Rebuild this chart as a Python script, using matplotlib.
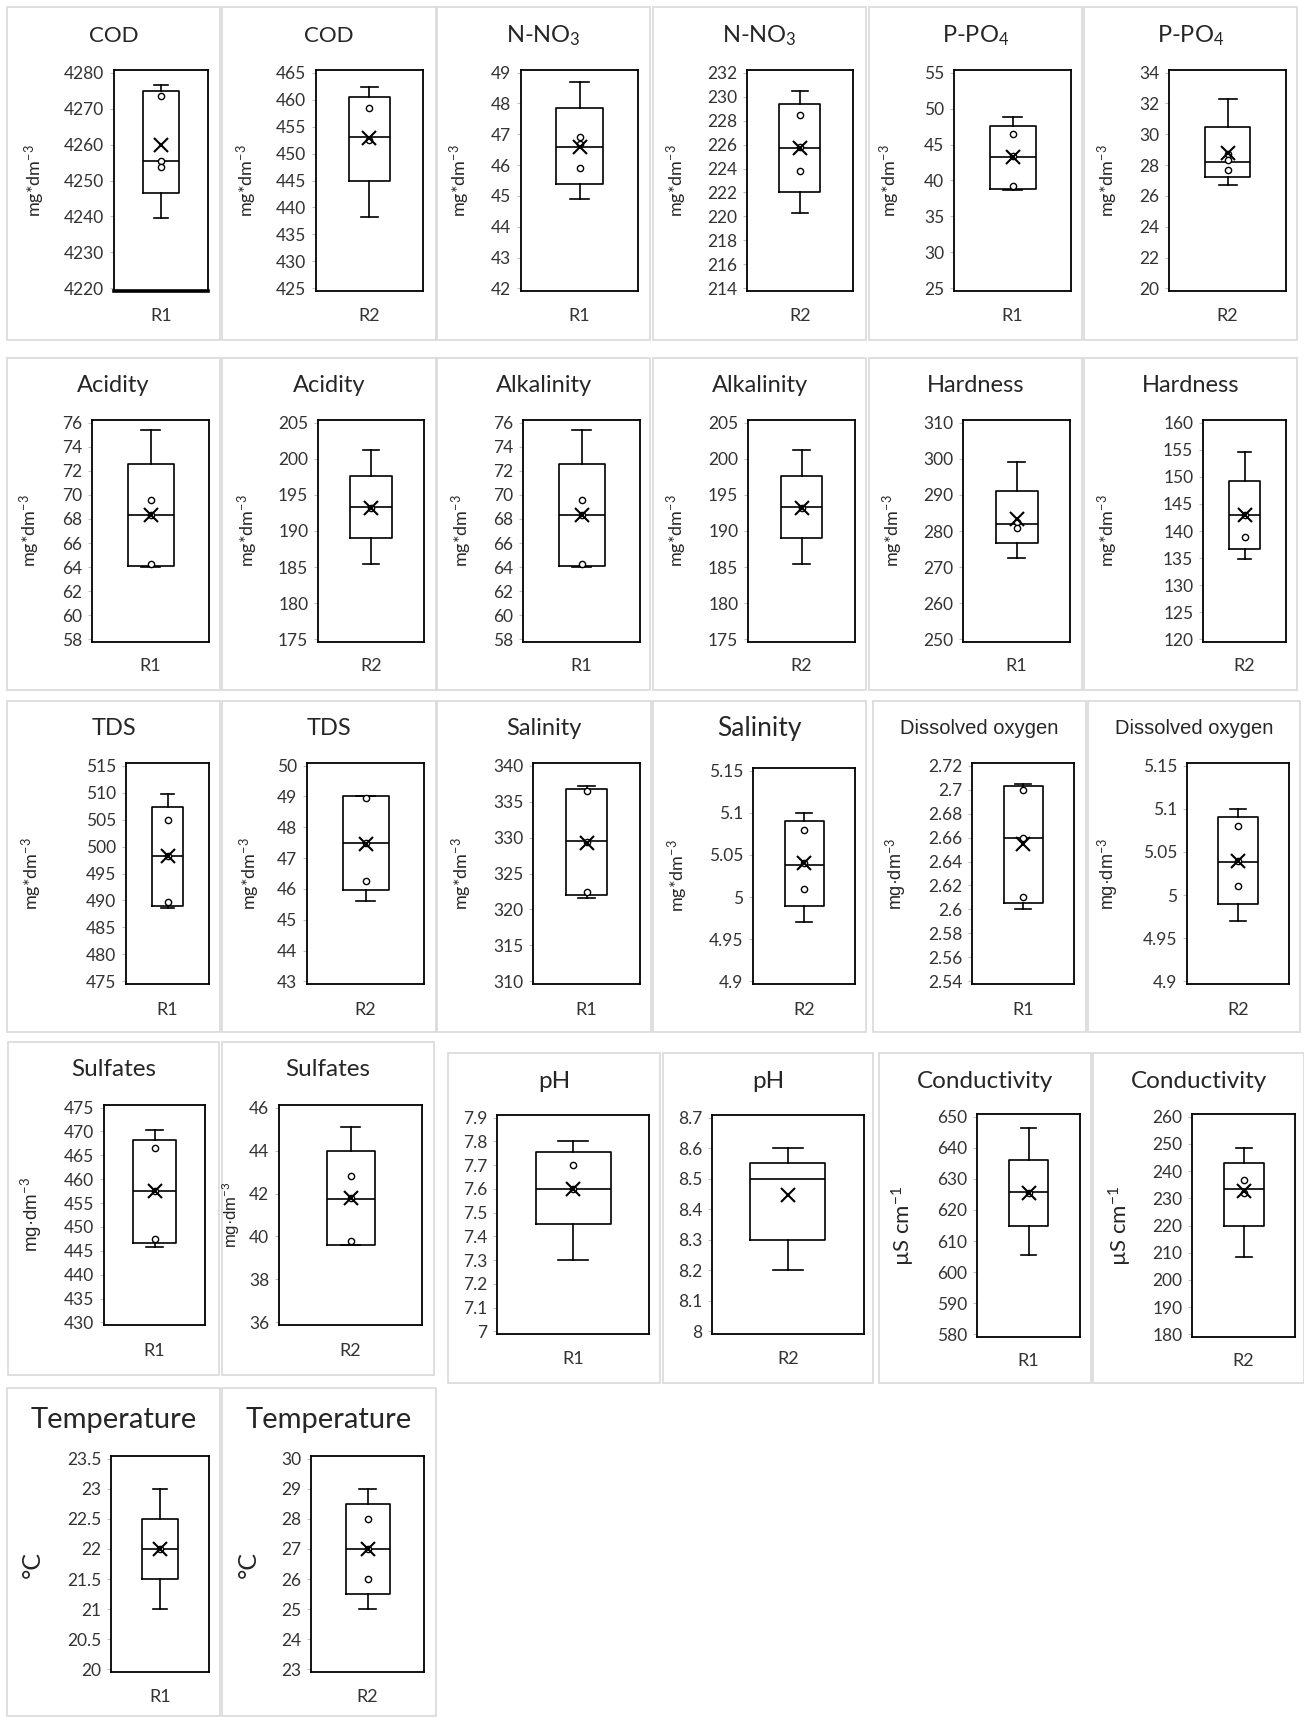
import numpy as np
import matplotlib.pyplot as plt
from matplotlib.patches import Rectangle

plt.rcParams['font.family'] = ['Lato', 'DejaVu Sans']
plt.rcParams['mathtext.fontset'] = 'custom'
plt.rcParams['mathtext.rm'] = 'Lato'
plt.rcParams['mathtext.it'] = 'Lato:italic'
plt.rcParams['mathtext.bf'] = 'Lato:bold'

W, H = 1304, 1717

# ---- data ----
titles = ['COD', 'COD', 'N-NO$_3$', 'N-NO$_3$', 'P-PO$_4$', 'P-PO$_4$',
          'Acidity', 'Acidity', 'Alkalinity', 'Alkalinity', 'Hardness', 'Hardness',
          'TDS', 'TDS', 'Salinity', 'Salinity', 'Dissolved oxygen', 'Dissolved oxygen',
          'Sulfates', 'Sulfates', 'pH', 'pH', 'Conductivity', 'Conductivity',
          'Temperature', 'Temperature']
runs = ['R1', 'R2'] * 13
mg = 'mg*dm$^{-3}$'
mgdot = 'mg·dm$^{-3}$'
units = [mg] * 16 + [mgdot, mgdot, mgdot, mgdot, '', '',
                     'µS cm$^{-1}$', 'µS cm$^{-1}$', '°C', '°C']

y_min = [4220, 425, 42, 214, 25, 20, 58, 175, 58, 175, 250, 120,
         475, 43, 310, 4.9, 2.54, 4.9, 430, 36, 7, 8, 580, 180, 20, 23]
y_max = [4280, 465, 49, 232, 55, 34, 76, 205, 76, 205, 310, 160,
         515, 50, 340, 5.15, 2.72, 5.15, 475, 46, 7.9, 8.7, 650, 260, 23.5, 30]
y_step = [10, 5, 1, 2, 5, 2, 2, 5, 2, 5, 10, 5,
          5, 1, 5, 0.05, 0.02, 0.05, 5, 2, 0.1, 0.1, 10, 10, 0.5, 1]

whis_lo = [4239.5, 438.3, 44.9, 220.3, 38.7, 26.7, 64.0, 185.5, 64.0, 185.5, 272.6, 134.8,
           488.6, 45.6, 321.6, 4.97, 2.600, 4.97, 445.8, 39.6, 7.3, 8.2, 605.5, 208.5, 21, 25]
q1 = [4246.5, 445, 45.4, 222, 38.8, 27.2, 64.1, 189.0, 64.1, 189.0, 276.6, 136.6,
      489, 45.95, 322, 4.99, 2.605, 4.99, 446.6, 39.6, 7.45, 8.3, 615, 220, 21.5, 25.5]
med = [4255.5, 453, 46.6, 225.7, 43.3, 28.2, 68.3, 193.3, 68.3, 193.3, 282, 143,
       498.2, 47.5, 329.5, 5.038, 2.660, 5.038, 457.5, 41.75, 7.6, 8.5, 625.8, 233.5, 22, 27]
q3 = [4275, 460.5, 47.85, 229.4, 47.6, 30.5, 72.6, 197.6, 72.6, 197.6, 291, 149.3,
      507.4, 49.0, 336.7, 5.09, 2.703, 5.09, 468.2, 44.0, 7.755, 8.55, 636, 243, 22.5, 28.5]
whis_hi = [4276.5, 462.3, 48.7, 230.5, 48.8, 32.3, 75.4, 201.2, 75.4, 201.2, 299, 154.6,
           509.7, 49.0, 337.2, 5.1, 2.705, 5.1, 470.3, 45.1, 7.8, 8.6, 646.5, 248.5, 23, 29]
means = [4260, 452.8, 46.6, 225.7, 43.3, 28.8, 68.3, 193.2, 68.3, 193.2, 283.3, 143,
         498.2, 47.45, 329.3, 5.04, 2.655, 5.04, 457.5, 41.8, 7.6, 8.445, 625.5, 232.5, 22, 27]
points = [[4273.5, 4255.5, 4253.8], [458.5, 452.5], [46.9, 46.7, 45.9], [228.5, 225.8, 223.8],
          [46.4, 43.4, 39.2], [28.7, 28.3, 27.7], [69.6, 68.3, 64.3], [193.2],
          [69.6, 68.3, 64.3], [193.2], [282.5, 280.8], [143, 138.9],
          [505, 498.3, 489.8], [48.95, 47.5, 46.25], [336.4, 329.4, 322.4], [5.08, 5.04, 5.01],
          [2.70, 2.66, 2.61], [5.08, 5.04, 5.01], [466.5, 457.5, 447.5], [42.8, 41.8, 39.8],
          [7.7, 7.6], [], [625.5], [236.8, 232], [22], [28, 27, 26]]

# ---- layout in pixels: panel frame, plot area, box width, title y, R label y, unit label x ----
row1 = (7, 340, 70, 291, 36, 316)
row2 = (358, 690, 420, 642, 386, 666)
row3 = (701, 1032, 763, 984, 728, 1010)
row4a = (1042, 1375, 1105, 1325, 1070, 1351)
row4b = (1053, 1383, 1115, 1334, 1082, 1359)
row4c = (1053, 1383, 1114, 1337, 1081, 1361)
row5 = (1388, 1716, 1456, 1672, 1420, 1697)
cols = [
    (7, 220, 114, 208, 36, 35, row1), (222, 436, 316, 423, 41, 247, row1),
    (437, 650, 521, 638, 47, 460, row1), (653, 866, 747, 853, 41, 677, row1),
    (869, 1082, 954, 1071, 46, 890, row1), (1084, 1297, 1169, 1286, 45, 1108, row1),
    (7, 220, 92, 209, 46, 30, row2), (222, 436, 318, 424, 42, 248, row2),
    (437, 650, 523, 640, 46, 462, row2), (653, 866, 748, 855, 41, 677, row2),
    (869, 1082, 963, 1070, 42, 893, row2), (1084, 1297, 1203, 1286, 31, 1108, row2),
    (7, 220, 126, 209, 31, 32, row3), (222, 436, 307, 424, 46, 250, row3),
    (437, 651, 533, 640, 41, 462, row3), (653, 866, 753, 855, 39, 678, (701, 1032, 768, 984, 728, 1010)),
    (873, 1086, 972, 1074, 39, 896, row3), (1088, 1300, 1187, 1289, 40, 1108, row3),
    (8, 219, 104, 205, 43, 31, row4a), (222, 434, 279, 422, 48, 231, row4a),
    (448, 660, 497, 649, 75, None, row4b), (663, 873, 712, 864, 75, None, row4b),
    (879, 1091, 977, 1080, 39, 903, row4c), (1093, 1304, 1192, 1295, 40, 1120, row4c),
    (7, 220, 111, 209, 36, 32, row5), (222, 436, 311, 424, 44, 248, row5),
]
title_font = ['Lato'] * 16 + ['Liberation Sans'] * 2 + ['Lato'] * 8
title_size = [16, 16] + [17] * 13 + [19, 14.5, 14.5] + [17.5] * 6 + [21, 21]
unit_font = ['Lato'] * 16 + ['Liberation Sans'] * 4 + ['Lato'] * 6
unit_size = [13] * 16 + [13, 13, 13.5, 12] + [0, 0, 16, 16, 18, 18]

fig = plt.figure(figsize=(W / 100, H / 100), dpi=100)
dark = '#262626'

for i in range(len(titles)):
    px0, px1, ax0, ax1, bw, ux, (py0, py1, ay0, ay1, ty, ly) = cols[i]
    fig.add_artist(Rectangle((px0 / W, 1 - py1 / H), (px1 - px0) / W, (py1 - py0) / H,
                             transform=fig.transFigure, fill=False, ec='#d9d9d9', lw=1.2))
    ax = fig.add_axes([ax0 / W, 1 - ay1 / H, (ax1 - ax0) / W, (ay1 - ay0) / H])

    stats = [dict(whislo=whis_lo[i], q1=q1[i], med=med[i], q3=q3[i], whishi=whis_hi[i], fliers=[])]
    w = bw / (ax1 - ax0)
    lp = dict(color='black', lw=1.2)
    ax.bxp(stats, positions=[1], widths=[w], capwidths=[w * 0.4], showfliers=False,
           boxprops=lp, medianprops=lp, whiskerprops=lp, capprops=lp)
    if points[i]:
        ax.plot([1] * len(points[i]), points[i], 'o', ms=4.5, mfc='white', mec='black', mew=1, zorder=4)
    ax.plot([1], [means[i]], 'x', ms=10, color='black', mew=1.5, zorder=5)

    rng = y_max[i] - y_min[i]
    ax.set_ylim(y_min[i] - rng * 0.012, y_max[i] + rng * 0.012)
    ax.set_xlim(0.5, 1.5)
    ticks = np.round(np.arange(y_min[i], y_max[i] + y_step[i] / 2, y_step[i]), 6)
    ax.set_yticks(ticks, [f'{t:g}' for t in ticks])
    ax.tick_params(axis='y', length=3, width=0.8, color='#bfbfbf', pad=4,
                   labelsize=12.5, labelcolor='#333333')
    pad = (ly - ay1 - 8) / 1.389
    ax.set_xticks([1], [runs[i]])
    ax.tick_params(axis='x', length=0, pad=pad, labelsize=13, labelcolor='#333333')
    for s in ax.spines.values():
        s.set_linewidth(1.3)
    if i == 0:
        ax.spines['bottom'].set_linewidth(2.6)

    fig.text((px0 + px1) / 2 / W, 1 - ty / H, titles[i], ha='center', va='center',
             fontsize=title_size[i], color=dark, family=[title_font[i], 'DejaVu Sans'])
    if ux is not None:
        fig.text(ux / W, 1 - (ay0 + ay1) / 2 / H, units[i], ha='center', va='center', rotation=90,
                 fontsize=unit_size[i], color=dark, family=[unit_font[i], 'DejaVu Sans'])

fig.savefig('out.png', dpi=100, facecolor='white')
